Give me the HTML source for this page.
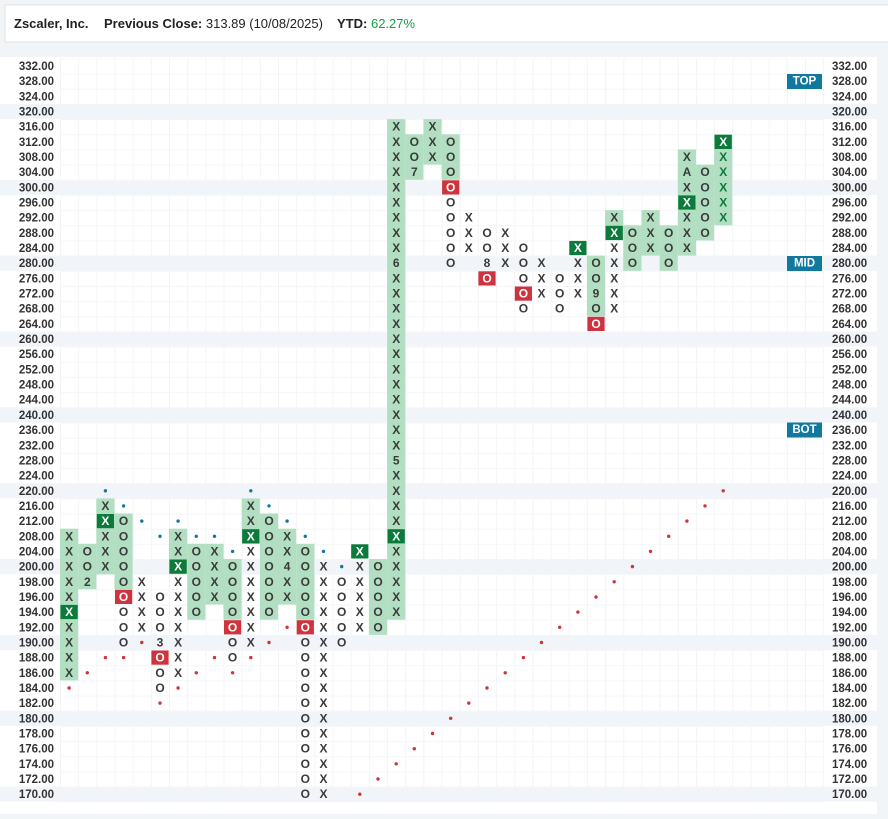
<!DOCTYPE html>
<html><head><meta charset="utf-8"><style>
html,body{margin:0;padding:0;background:#f2f5f8;}
svg{display:block;font-family:"Liberation Sans",sans-serif;}
.l{font-size:11.5px;font-weight:bold;fill:#333;}
.c{font-size:12px;font-weight:bold;fill:#3a3a3a;text-anchor:middle;dominant-baseline:central;}
.w{fill:#fff;}
.gt{fill:#0b7a3b;}
.sh{fill:#b2dfc1;}
.dg{fill:#0b7a3b;}
.rd{fill:#cf333d;}
.tag{font-size:11.5px;font-weight:bold;fill:#fff;text-anchor:middle;dominant-baseline:central;}
</style></head><body>
<svg width="888" height="819" viewBox="0 0 888 819" xmlns="http://www.w3.org/2000/svg">
<defs>
<pattern id="gv" x="60" y="0" width="18.17" height="819" patternUnits="userSpaceOnUse"><rect x="0" y="0" width="1" height="819" fill="#f2f4f7"/></pattern>
<pattern id="gh" x="0" y="58.4" width="888" height="15.17" patternUnits="userSpaceOnUse"><rect x="0" y="0" width="888" height="1" fill="#f4f6f8"/></pattern>
</defs>
<rect x="5" y="5" width="884" height="37" fill="#fff" stroke="#dde3ea"/>
<text x="14" y="28" style="font-size:13px;font-weight:bold;fill:#222">Zscaler, Inc.</text>
<text x="104" y="28" style="font-size:13px;fill:#222"><tspan font-weight="bold">Previous Close:</tspan> 313.89 (10/08/2025)</text>
<text x="337" y="28" style="font-size:13px;fill:#222"><tspan font-weight="bold">YTD:</tspan> <tspan fill="#1a9a46">62.27%</tspan></text>
<rect x="0" y="57" width="877" height="757" fill="#fff"/>
<g fill="#f1f4f8">
<rect x="0" y="103.9" width="877" height="15.17"/>
<rect x="0" y="179.8" width="877" height="15.17"/>
<rect x="0" y="255.6" width="877" height="15.17"/>
<rect x="0" y="331.5" width="877" height="15.17"/>
<rect x="0" y="407.3" width="877" height="15.17"/>
<rect x="0" y="483.2" width="877" height="15.17"/>
<rect x="0" y="559.0" width="877" height="15.17"/>
<rect x="0" y="634.9" width="877" height="15.17"/>
<rect x="0" y="710.7" width="877" height="15.17"/>
<rect x="0" y="786.6" width="877" height="15.17"/>
</g>
<rect x="60" y="58" width="764" height="744" fill="url(#gv)"/>
<rect x="60" y="58" width="764" height="744" fill="url(#gh)"/>
<g class="l" text-anchor="end">
<text x="54" y="70">332.00</text><text x="54" y="85.2">328.00</text><text x="54" y="100.3">324.00</text><text x="54" y="115.5">320.00</text><text x="54" y="130.7">316.00</text><text x="54" y="145.9">312.00</text><text x="54" y="161">308.00</text><text x="54" y="176.2">304.00</text><text x="54" y="191.4">300.00</text><text x="54" y="206.5">296.00</text><text x="54" y="221.7">292.00</text><text x="54" y="236.9">288.00</text><text x="54" y="252">284.00</text><text x="54" y="267.2">280.00</text><text x="54" y="282.4">276.00</text><text x="54" y="297.6">272.00</text><text x="54" y="312.7">268.00</text><text x="54" y="327.9">264.00</text><text x="54" y="343.1">260.00</text><text x="54" y="358.2">256.00</text><text x="54" y="373.4">252.00</text><text x="54" y="388.6">248.00</text><text x="54" y="403.7">244.00</text><text x="54" y="418.9">240.00</text><text x="54" y="434.1">236.00</text><text x="54" y="449.3">232.00</text><text x="54" y="464.4">228.00</text><text x="54" y="479.6">224.00</text><text x="54" y="494.8">220.00</text><text x="54" y="509.9">216.00</text><text x="54" y="525.1">212.00</text><text x="54" y="540.3">208.00</text><text x="54" y="555.4">204.00</text><text x="54" y="570.6">200.00</text><text x="54" y="585.8">198.00</text><text x="54" y="601">196.00</text><text x="54" y="616.1">194.00</text><text x="54" y="631.3">192.00</text><text x="54" y="646.5">190.00</text><text x="54" y="661.6">188.00</text><text x="54" y="676.8">186.00</text><text x="54" y="692">184.00</text><text x="54" y="707.1">182.00</text><text x="54" y="722.3">180.00</text><text x="54" y="737.5">178.00</text><text x="54" y="752.7">176.00</text><text x="54" y="767.8">174.00</text><text x="54" y="783">172.00</text><text x="54" y="798.2">170.00</text>
</g>
<g class="l" text-anchor="start">
<text x="832" y="70">332.00</text><text x="832" y="85.2">328.00</text><text x="832" y="100.3">324.00</text><text x="832" y="115.5">320.00</text><text x="832" y="130.7">316.00</text><text x="832" y="145.9">312.00</text><text x="832" y="161">308.00</text><text x="832" y="176.2">304.00</text><text x="832" y="191.4">300.00</text><text x="832" y="206.5">296.00</text><text x="832" y="221.7">292.00</text><text x="832" y="236.9">288.00</text><text x="832" y="252">284.00</text><text x="832" y="267.2">280.00</text><text x="832" y="282.4">276.00</text><text x="832" y="297.6">272.00</text><text x="832" y="312.7">268.00</text><text x="832" y="327.9">264.00</text><text x="832" y="343.1">260.00</text><text x="832" y="358.2">256.00</text><text x="832" y="373.4">252.00</text><text x="832" y="388.6">248.00</text><text x="832" y="403.7">244.00</text><text x="832" y="418.9">240.00</text><text x="832" y="434.1">236.00</text><text x="832" y="449.3">232.00</text><text x="832" y="464.4">228.00</text><text x="832" y="479.6">224.00</text><text x="832" y="494.8">220.00</text><text x="832" y="509.9">216.00</text><text x="832" y="525.1">212.00</text><text x="832" y="540.3">208.00</text><text x="832" y="555.4">204.00</text><text x="832" y="570.6">200.00</text><text x="832" y="585.8">198.00</text><text x="832" y="601">196.00</text><text x="832" y="616.1">194.00</text><text x="832" y="631.3">192.00</text><text x="832" y="646.5">190.00</text><text x="832" y="661.6">188.00</text><text x="832" y="676.8">186.00</text><text x="832" y="692">184.00</text><text x="832" y="707.1">182.00</text><text x="832" y="722.3">180.00</text><text x="832" y="737.5">178.00</text><text x="832" y="752.7">176.00</text><text x="832" y="767.8">174.00</text><text x="832" y="783">172.00</text><text x="832" y="798.2">170.00</text>
</g>
<rect x="787" y="74" width="35" height="15" fill="#11789e"/><text class="tag" x="804.5" y="81.5">TOP</text>
<rect x="787" y="256" width="35" height="15" fill="#11789e"/><text class="tag" x="804.5" y="263.5">MID</text>
<rect x="787" y="422.5" width="35" height="15" fill="#11789e"/><text class="tag" x="804.5" y="430">BOT</text>
<g class="sh">
<rect x="60" y="528.7" width="18.17" height="151.7"/>
<rect x="78.2" y="543.8" width="18.17" height="45.5"/>
<rect x="96.3" y="498.4" width="18.17" height="75.9"/>
<rect x="114.5" y="513.5" width="18.17" height="75.9"/>
<rect x="169" y="528.7" width="18.17" height="45.5"/>
<rect x="187.2" y="543.8" width="18.17" height="75.9"/>
<rect x="205.4" y="543.8" width="18.17" height="60.7"/>
<rect x="223.5" y="559" width="18.17" height="60.7"/>
<rect x="241.7" y="498.4" width="18.17" height="45.5"/>
<rect x="259.9" y="513.5" width="18.17" height="106.2"/>
<rect x="278" y="528.7" width="18.17" height="75.9"/>
<rect x="296.2" y="543.8" width="18.17" height="75.9"/>
<rect x="368.9" y="559" width="18.17" height="75.9"/>
<rect x="387.1" y="119.1" width="18.17" height="500.6"/>
<rect x="405.2" y="134.3" width="18.17" height="45.5"/>
<rect x="423.4" y="119.1" width="18.17" height="45.5"/>
<rect x="441.6" y="134.3" width="18.17" height="45.5"/>
<rect x="586.9" y="255.6" width="18.17" height="60.7"/>
<rect x="605.1" y="210.1" width="18.17" height="30.3"/>
<rect x="623.3" y="225.3" width="18.17" height="45.5"/>
<rect x="641.4" y="210.1" width="18.17" height="45.5"/>
<rect x="659.6" y="225.3" width="18.17" height="45.5"/>
<rect x="677.8" y="149.4" width="18.17" height="106.2"/>
<rect x="695.9" y="164.6" width="18.17" height="75.9"/>
<rect x="714.1" y="134.3" width="18.17" height="91"/>
</g>
<g class="dg">
<rect x="60.5" y="604.9" width="17.2" height="14.2"/>
<rect x="96.8" y="514" width="17.2" height="14.2"/>
<rect x="169.5" y="559.5" width="17.2" height="14.2"/>
<rect x="242.2" y="529.2" width="17.2" height="14.2"/>
<rect x="351.2" y="544.3" width="17.2" height="14.2"/>
<rect x="387.6" y="529.2" width="17.2" height="14.2"/>
<rect x="569.3" y="240.9" width="17.2" height="14.2"/>
<rect x="605.6" y="225.8" width="17.2" height="14.2"/>
<rect x="678.3" y="195.4" width="17.2" height="14.2"/>
<rect x="714.6" y="134.8" width="17.2" height="14.2"/>
</g>
<g class="rd">
<rect x="115" y="589.8" width="17.2" height="14.2"/>
<rect x="151.4" y="650.5" width="17.2" height="14.2"/>
<rect x="224" y="620.2" width="17.2" height="14.2"/>
<rect x="296.7" y="620.2" width="17.2" height="14.2"/>
<rect x="442.1" y="180.3" width="17.2" height="14.2"/>
<rect x="478.4" y="271.3" width="17.2" height="14.2"/>
<rect x="514.8" y="286.5" width="17.2" height="14.2"/>
<rect x="587.4" y="316.8" width="17.2" height="14.2"/>
</g>
<g fill="#cf333d">
<circle cx="69.1" cy="688" r="1.7"/><circle cx="87.3" cy="672.8" r="1.7"/><circle cx="105.4" cy="657.6" r="1.7"/><circle cx="123.6" cy="657.6" r="1.7"/><circle cx="141.8" cy="642.5" r="1.7"/><circle cx="160" cy="703.1" r="1.7"/><circle cx="178.1" cy="688" r="1.7"/><circle cx="196.3" cy="672.8" r="1.7"/><circle cx="214.5" cy="657.6" r="1.7"/><circle cx="232.6" cy="672.8" r="1.7"/><circle cx="250.8" cy="657.6" r="1.7"/><circle cx="269" cy="642.5" r="1.7"/><circle cx="287.1" cy="627.3" r="1.7"/>
<circle cx="359.8" cy="794.2" r="1.7"/><circle cx="378" cy="779" r="1.7"/><circle cx="396.2" cy="763.8" r="1.7"/><circle cx="414.3" cy="748.7" r="1.7"/><circle cx="432.5" cy="733.5" r="1.7"/><circle cx="450.7" cy="718.3" r="1.7"/><circle cx="468.8" cy="703.1" r="1.7"/><circle cx="487" cy="688" r="1.7"/><circle cx="505.2" cy="672.8" r="1.7"/><circle cx="523.4" cy="657.6" r="1.7"/><circle cx="541.5" cy="642.5" r="1.7"/><circle cx="559.7" cy="627.3" r="1.7"/><circle cx="577.9" cy="612.1" r="1.7"/><circle cx="596" cy="597" r="1.7"/><circle cx="614.2" cy="581.8" r="1.7"/><circle cx="632.4" cy="566.6" r="1.7"/><circle cx="650.5" cy="551.4" r="1.7"/><circle cx="668.7" cy="536.3" r="1.7"/><circle cx="686.9" cy="521.1" r="1.7"/><circle cx="705" cy="505.9" r="1.7"/><circle cx="723.2" cy="490.8" r="1.7"/>
</g>
<g fill="#11789e">
<circle cx="105.4" cy="490.8" r="1.7"/><circle cx="123.6" cy="505.9" r="1.7"/><circle cx="141.8" cy="521.1" r="1.7"/><circle cx="160" cy="536.3" r="1.7"/><circle cx="178.1" cy="521.1" r="1.7"/><circle cx="196.3" cy="536.3" r="1.7"/><circle cx="214.5" cy="536.3" r="1.7"/><circle cx="232.6" cy="551.4" r="1.7"/><circle cx="250.8" cy="490.8" r="1.7"/><circle cx="269" cy="505.9" r="1.7"/><circle cx="287.1" cy="521.1" r="1.7"/><circle cx="305.3" cy="536.3" r="1.7"/><circle cx="323.5" cy="551.4" r="1.7"/><circle cx="341.7" cy="566.6" r="1.7"/>
</g>
<g class="c">
<g transform="translate(69.1,0)"><text y="536.3">X</text><text y="551.4">X</text><text y="566.6">X</text><text y="581.8">X</text><text y="597">X</text><text y="612.1" class="w">X</text><text y="627.3">X</text><text y="642.5">X</text><text y="657.6">X</text><text y="672.8">X</text></g>
<g transform="translate(87.3,0)"><text y="551.4">O</text><text y="566.6">O</text><text y="581.8">2</text></g>
<g transform="translate(105.4,0)"><text y="505.9">X</text><text y="521.1" class="w">X</text><text y="536.3">X</text><text y="551.4">X</text><text y="566.6">X</text></g>
<g transform="translate(123.6,0)"><text y="521.1">O</text><text y="536.3">O</text><text y="551.4">O</text><text y="566.6">O</text><text y="581.8">O</text><text y="597" class="w">O</text><text y="612.1">O</text><text y="627.3">O</text><text y="642.5">O</text></g>
<g transform="translate(141.8,0)"><text y="581.8">X</text><text y="597">X</text><text y="612.1">X</text><text y="627.3">X</text></g>
<g transform="translate(160,0)"><text y="597">O</text><text y="612.1">O</text><text y="627.3">O</text><text y="642.5">3</text><text y="657.6" class="w">O</text><text y="672.8">O</text><text y="688">O</text></g>
<g transform="translate(178.1,0)"><text y="536.3">X</text><text y="551.4">X</text><text y="566.6" class="w">X</text><text y="581.8">X</text><text y="597">X</text><text y="612.1">X</text><text y="627.3">X</text><text y="642.5">X</text><text y="657.6">X</text><text y="672.8">X</text></g>
<g transform="translate(196.3,0)"><text y="551.4">O</text><text y="566.6">O</text><text y="581.8">O</text><text y="597">O</text><text y="612.1">O</text></g>
<g transform="translate(214.5,0)"><text y="551.4">X</text><text y="566.6">X</text><text y="581.8">X</text><text y="597">X</text></g>
<g transform="translate(232.6,0)"><text y="566.6">O</text><text y="581.8">O</text><text y="597">O</text><text y="612.1">O</text><text y="627.3" class="w">O</text><text y="642.5">O</text><text y="657.6">O</text></g>
<g transform="translate(250.8,0)"><text y="505.9">X</text><text y="521.1">X</text><text y="536.3" class="w">X</text><text y="551.4">X</text><text y="566.6">X</text><text y="581.8">X</text><text y="597">X</text><text y="612.1">X</text><text y="627.3">X</text><text y="642.5">X</text></g>
<g transform="translate(269,0)"><text y="521.1">O</text><text y="536.3">O</text><text y="551.4">O</text><text y="566.6">O</text><text y="581.8">O</text><text y="597">O</text><text y="612.1">O</text></g>
<g transform="translate(287.1,0)"><text y="536.3">X</text><text y="551.4">X</text><text y="566.6">4</text><text y="581.8">X</text><text y="597">X</text></g>
<g transform="translate(305.3,0)"><text y="551.4">O</text><text y="566.6">O</text><text y="581.8">O</text><text y="597">O</text><text y="612.1">O</text><text y="627.3" class="w">O</text><text y="642.5">O</text><text y="657.6">O</text><text y="672.8">O</text><text y="688">O</text><text y="703.1">O</text><text y="718.3">O</text><text y="733.5">O</text><text y="748.7">O</text><text y="763.8">O</text><text y="779">O</text><text y="794.2">O</text></g>
<g transform="translate(323.5,0)"><text y="566.6">X</text><text y="581.8">X</text><text y="597">X</text><text y="612.1">X</text><text y="627.3">X</text><text y="642.5">X</text><text y="657.6">X</text><text y="672.8">X</text><text y="688">X</text><text y="703.1">X</text><text y="718.3">X</text><text y="733.5">X</text><text y="748.7">X</text><text y="763.8">X</text><text y="779">X</text><text y="794.2">X</text></g>
<g transform="translate(341.7,0)"><text y="581.8">O</text><text y="597">O</text><text y="612.1">O</text><text y="627.3">O</text><text y="642.5">O</text></g>
<g transform="translate(359.8,0)"><text y="551.4" class="w">X</text><text y="566.6">X</text><text y="581.8">X</text><text y="597">X</text><text y="612.1">X</text><text y="627.3">X</text></g>
<g transform="translate(378,0)"><text y="566.6">O</text><text y="581.8">O</text><text y="597">O</text><text y="612.1">O</text><text y="627.3">O</text></g>
<g transform="translate(396.2,0)"><text y="126.7">X</text><text y="141.9">X</text><text y="157">X</text><text y="172.2">X</text><text y="187.4">X</text><text y="202.5">X</text><text y="217.7">X</text><text y="232.9">X</text><text y="248">X</text><text y="263.2">6</text><text y="278.4">X</text><text y="293.6">X</text><text y="308.7">X</text><text y="323.9">X</text><text y="339.1">X</text><text y="354.2">X</text><text y="369.4">X</text><text y="384.6">X</text><text y="399.7">X</text><text y="414.9">X</text><text y="430.1">X</text><text y="445.3">X</text><text y="460.4">5</text><text y="475.6">X</text><text y="490.8">X</text><text y="505.9">X</text><text y="521.1">X</text><text y="536.3" class="w">X</text><text y="551.4">X</text><text y="566.6">X</text><text y="581.8">X</text><text y="597">X</text><text y="612.1">X</text></g>
<g transform="translate(414.3,0)"><text y="141.9">O</text><text y="157">O</text><text y="172.2">7</text></g>
<g transform="translate(432.5,0)"><text y="126.7">X</text><text y="141.9">X</text><text y="157">X</text></g>
<g transform="translate(450.7,0)"><text y="141.9">O</text><text y="157">O</text><text y="172.2">O</text><text y="187.4" class="w">O</text><text y="202.5">O</text><text y="217.7">O</text><text y="232.9">O</text><text y="248">O</text><text y="263.2">O</text></g>
<g transform="translate(468.8,0)"><text y="217.7">X</text><text y="232.9">X</text><text y="248">X</text></g>
<g transform="translate(487,0)"><text y="232.9">O</text><text y="248">O</text><text y="263.2">8</text><text y="278.4" class="w">O</text></g>
<g transform="translate(505.2,0)"><text y="232.9">X</text><text y="248">X</text><text y="263.2">X</text></g>
<g transform="translate(523.4,0)"><text y="248">O</text><text y="263.2">O</text><text y="278.4">O</text><text y="293.6" class="w">O</text><text y="308.7">O</text></g>
<g transform="translate(541.5,0)"><text y="263.2">X</text><text y="278.4">X</text><text y="293.6">X</text></g>
<g transform="translate(559.7,0)"><text y="278.4">O</text><text y="293.6">O</text><text y="308.7">O</text></g>
<g transform="translate(577.9,0)"><text y="248" class="w">X</text><text y="263.2">X</text><text y="278.4">X</text><text y="293.6">X</text></g>
<g transform="translate(596,0)"><text y="263.2">O</text><text y="278.4">O</text><text y="293.6">9</text><text y="308.7">O</text><text y="323.9" class="w">O</text></g>
<g transform="translate(614.2,0)"><text y="217.7">X</text><text y="232.9" class="w">X</text><text y="248">X</text><text y="263.2">X</text><text y="278.4">X</text><text y="293.6">X</text><text y="308.7">X</text></g>
<g transform="translate(632.4,0)"><text y="232.9">O</text><text y="248">O</text><text y="263.2">O</text></g>
<g transform="translate(650.5,0)"><text y="217.7">X</text><text y="232.9">X</text><text y="248">X</text></g>
<g transform="translate(668.7,0)"><text y="232.9">O</text><text y="248">O</text><text y="263.2">O</text></g>
<g transform="translate(686.9,0)"><text y="157">X</text><text y="172.2">A</text><text y="187.4">X</text><text y="202.5" class="w">X</text><text y="217.7">X</text><text y="232.9">X</text><text y="248">X</text></g>
<g transform="translate(705,0)"><text y="172.2">O</text><text y="187.4">O</text><text y="202.5">O</text><text y="217.7">O</text><text y="232.9">O</text></g>
<g transform="translate(723.2,0)"><text y="141.9" class="w">X</text><text y="157" class="gt">X</text><text y="172.2" class="gt">X</text><text y="187.4" class="gt">X</text><text y="202.5" class="gt">X</text><text y="217.7" class="gt">X</text></g>
</g>
</svg>
</body></html>
